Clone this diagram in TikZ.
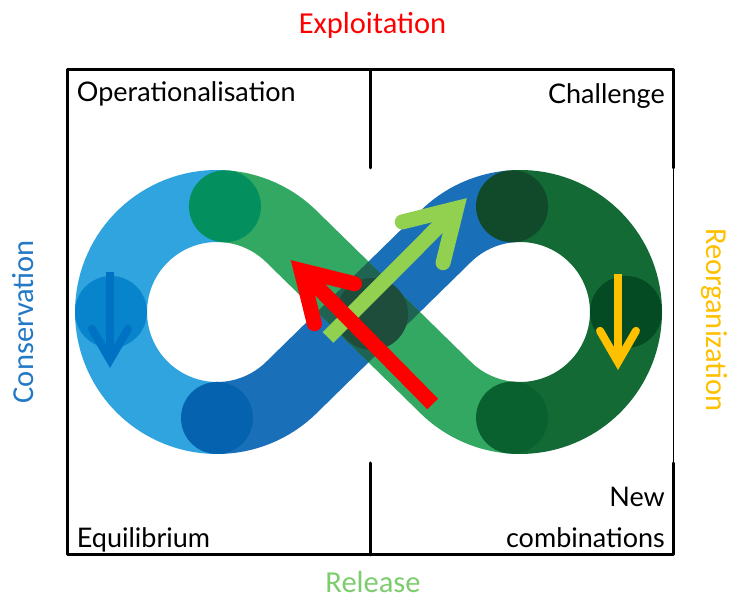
\documentclass[tikz,border=0pt]{standalone}
\usepackage{fontspec}
\setmainfont{Carlito}
\newfontfamily\handfont{Lato}
\usetikzlibrary{calc}

\definecolor{lblue}{RGB}{47,164,222}
\definecolor{mblue}{RGB}{26,111,185}
\definecolor{dgreen}{RGB}{19,106,52}
\definecolor{mgreen}{RGB}{51,168,98}
\definecolor{ovl}{RGB}{31,100,82}
\definecolor{ctl}{RGB}{4,144,94}
\definecolor{cl}{RGB}{8,132,204}
\definecolor{cbl}{RGB}{5,98,174}
\definecolor{ctr}{RGB}{16,74,43}
\definecolor{cr}{RGB}{4,74,34}
\definecolor{cbr}{RGB}{8,97,46}
\definecolor{cc}{RGB}{30,77,60}
\definecolor{redarr}{RGB}{255,0,0}
\definecolor{greenarr}{RGB}{146,208,80}
\definecolor{bluearr}{RGB}{0,114,196}
\definecolor{goldarr}{RGB}{255,192,0}
\definecolor{conscol}{RGB}{35,121,198}
\definecolor{relcol}{RGB}{125,205,110}

\begin{document}
\begin{tikzpicture}[x=1pt,y=1pt,
  frameline/.style={line width=3pt, line cap=round, line join=round, black},
  thinframe/.style={line width=1pt, black},
  band/.style={line width=72pt, line cap=butt},
  joint/.style={circle, inner sep=0pt, minimum size=72pt, draw=none},
  bighead/.style={line width=15pt, line cap=round, line join=miter},
  bigshaft/.style={line width=15pt, line cap=butt},
  smallhead/.style={line width=8pt, line cap=round, line join=miter},
  smallshaft/.style={line width=8pt, line cap=butt},
  handlbl/.style={inner sep=0pt, font=\handfont\fontsize{27}{32}\selectfont},
  sidelbl/.style={inner sep=0pt, font=\fontsize{30.5}{36}\selectfont},
]
\useasboundingbox (0,0) rectangle (731,601);
\fill[white] (0,0) rectangle (731,601);

% frame
\coordinate (fTL) at (67,531);
\coordinate (fTR) at (673,531);
\coordinate (fBL) at (67,46);
\coordinate (fBR) at (673,46);
\coordinate (fRT) at (673,433);
\coordinate (fRB) at (673,138);
\coordinate (fMT) at (370.5,531);
\coordinate (fMTe) at (370.5,433);
\coordinate (fMB) at (370.5,46);
\coordinate (fMBe) at (370.5,138);
\draw[frameline] (fRT) -- (fTR) -- (fTL) -- (fBL) -- (fBR) -- (fRB);
\draw[frameline] (fMT) -- (fMTe);
\draw[frameline] (fMB) -- (fMBe);
\draw[thinframe] (fRT) -- (fRB);

% infinity band
\coordinate (Lc) at (217,289);
\coordinate (Rc) at (520,289);
\draw[band, lblue] ($(Lc)+(85.7:106)$) arc[start angle=85.7, end angle=270, radius=106];
\draw[band, mblue] ($(Lc)+(270:106)$) arc[start angle=270, end angle=314.4, radius=106]
   -- ($(Rc)+(134.4:106)$) arc[start angle=134.4, end angle=94.3, radius=106];
\draw[band, dgreen] ($(Rc)+(94.3:106)$) arc[start angle=94.3, end angle=-94.3, radius=106];
\draw[band, mgreen] ($(Rc)+(265.7:106)$) arc[start angle=265.7, end angle=225.6, radius=106]
   -- ($(Lc)+(45.6:106)$) arc[start angle=45.6, end angle=85.7, radius=106];
\begin{scope}
  \clip ($(Rc)+(225.6:70)$) -- ($(Lc)+(45.6:142)$) -- ($(Lc)+(45.6:70)$) -- ($(Rc)+(225.6:142)$) -- cycle;
  \draw[band, ovl] ($(Lc)+(314.4:106)$) -- ($(Rc)+(134.4:106)$);
\end{scope}

% joints
\node[joint, fill=ctl] (jTL) at ($(Lc)+(85.7:106)$) {};
\node[joint, fill=cl]  (jL)  at ($(Lc)+(180:106)$) {};
\node[joint, fill=cbl] (jBL) at ($(Lc)+(270:106)$) {};
\node[joint, fill=ctr] (jTR) at ($(Rc)+(94.3:106)$) {};
\node[joint, fill=cr]  (jR)  at ($(Rc)+(0:106)$) {};
\node[joint, fill=cbr] (jBR) at ($(Rc)+(265.7:106)$) {};
\node[joint, fill=cc]  (jC)  at (372,287) {};

% green arrow
\coordinate (gTail) at (328,263.5);
\coordinate (gTip) at (456.6,392.6);
\coordinate (gArmA) at ($(gTip)+(-104:56)$);
\coordinate (gArmB) at ($(gTip)+(-166:56)$);
\draw[bigshaft, greenarr] (gTail) -- (gTip);
\draw[bighead, greenarr] (gArmA) -- (gTip) -- (gArmB);

% red arrow
\coordinate (rTail) at (432.7,197);
\coordinate (rTip) at (301.1,330.6);
\coordinate (rArmA) at ($(rTip)+(-14:55)$);
\coordinate (rArmB) at ($(rTip)+(-76:55)$);
\draw[bigshaft, redarr] (rTail) -- (rTip);
\draw[bighead, redarr] (rArmA) -- (rTip) -- (rArmB);

% blue arrow
\coordinate (bTail) at (110,329);
\coordinate (bTip) at (110,241);
\coordinate (bArmA) at ($(bTip)+(60:36)$);
\coordinate (bArmB) at ($(bTip)+(120:36)$);
\draw[smallshaft, bluearr] (bTail) -- (bTip);
\draw[smallhead, bluearr] (bArmA) -- (bTip) -- (bArmB);

% yellow arrow
\coordinate (yTail) at (618,327);
\coordinate (yTip) at (618,239);
\coordinate (yArmA) at ($(yTip)+(60:36)$);
\coordinate (yArmB) at ($(yTip)+(120:36)$);
\draw[smallshaft, goldarr] (yTail) -- (yTip);
\draw[smallhead, goldarr] (yArmA) -- (yTip) -- (yArmB);

% side labels
\node[sidelbl, text=red, anchor=base] (exploit) at (372.5,567) {Exploitation};
\node[sidelbl, text=relcol, anchor=base] (release) at (373,8) {Release};
\node[sidelbl, text=conscol, anchor=base, rotate=90] (cons) at (33.3,279.3) {Conservation};
\node[sidelbl, text=goldarr, anchor=base, rotate=-90] (reorg) at (706,281) {Reorganization};

% quadrant labels
\node[handlbl, anchor=base west] (oper) at (76.7,499.3) {Operationalisation};
\node[handlbl, anchor=base east] (chal) at (665,497.7) {Challenge};
\node[handlbl, anchor=base west] (equi) at (76.7,53.7) {Equilibrium};
\node[handlbl, anchor=base east] (newl) at (665,94.3) {New};
\node[handlbl, anchor=base east] (comb) at (665,53.7) {combinations};
\end{tikzpicture}
\end{document}
